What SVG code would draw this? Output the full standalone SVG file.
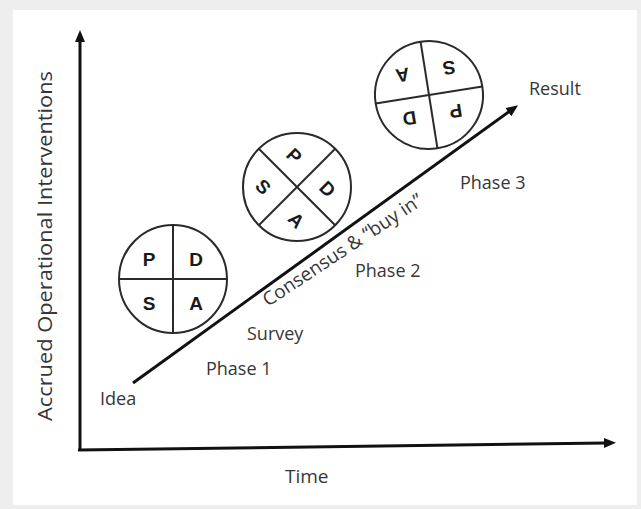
<svg xmlns="http://www.w3.org/2000/svg" width="641" height="509" viewBox="0 0 641 509">
  <style>
    .lbl { font-family: "Open Sans", "Liberation Sans", sans-serif; font-size: 18px; fill: #363636; }
    .ring { fill: #fff; stroke: #2a2a2a; stroke-width: 2; }
    .div { stroke: #2a2a2a; stroke-width: 2; }
    .q { font-family: "Liberation Sans", Arial, sans-serif; font-weight: bold; font-size: 19px; fill: #1a1a1a; text-anchor: middle; dominant-baseline: central; }
    .axis { stroke: #111; stroke-width: 3; fill: none; }
  </style>
  <defs>
    <marker id="head" markerUnits="userSpaceOnUse" markerWidth="14" markerHeight="12" refX="2" refY="5" orient="auto">
      <path d="M0,0 L12,5 L0,10 z" fill="#111"/>
    </marker>
    <!-- PDSA wheel, centred on the origin -->
    <g id="pdsa">
      <circle class="ring" cx="0" cy="0" r="54"/>
      <line class="div" x1="0" y1="-54" x2="0" y2="54"/>
      <line class="div" x1="-54" y1="0" x2="54" y2="0"/>
      <text class="q" x="-24" y="-20">P</text>
      <text class="q" x="23" y="-20">D</text>
      <text class="q" x="-24" y="24">S</text>
      <text class="q" x="23" y="24">A</text>
    </g>
  </defs>

  <!-- frame -->
  <rect x="0" y="0" width="641" height="509" fill="#eeeeee"/>
  <rect x="13" y="10" width="624" height="495" fill="#ffffff"/>

  <!-- axes and progress arrow -->
  <g id="connectors">
    <line class="axis" x1="80" y1="450" x2="80" y2="40" marker-end="url(#head)"/>
    <line class="axis" x1="78" y1="450" x2="606" y2="443" marker-end="url(#head)"/>
    <line class="axis" x1="133" y1="383" x2="510" y2="111" marker-end="url(#head)"/>
  </g>

  <g id="axis-labels">
    <text class="lbl" x="52" y="246" transform="rotate(-90 52 246)" text-anchor="middle" style="font-size:20px" textLength="350" lengthAdjust="spacingAndGlyphs">Accrued Operational Interventions</text>
    <text class="lbl" x="285" y="483" style="font-size:19px">Time</text>
  </g>

  <g id="wheel-1"><use href="#pdsa" transform="translate(173 279)"/></g>
  <g id="wheel-2"><use href="#pdsa" transform="translate(297 187) rotate(45)"/></g>
  <g id="wheel-3"><use href="#pdsa" transform="translate(429 95) rotate(171)"/></g>

  <g id="stages">
    <text class="lbl" x="100" y="405">Idea</text>
    <text class="lbl" x="206" y="375">Phase 1</text>
    <text class="lbl" x="247" y="340">Survey</text>
    <text class="lbl" x="268" y="307" transform="rotate(-33.5 268 307)" style="font-size:19px">Consensus &amp; “buy in”</text>
    <text class="lbl" x="355" y="277">Phase 2</text>
    <text class="lbl" x="460" y="189">Phase 3</text>
    <text class="lbl" x="529" y="95">Result</text>
  </g>
</svg>
